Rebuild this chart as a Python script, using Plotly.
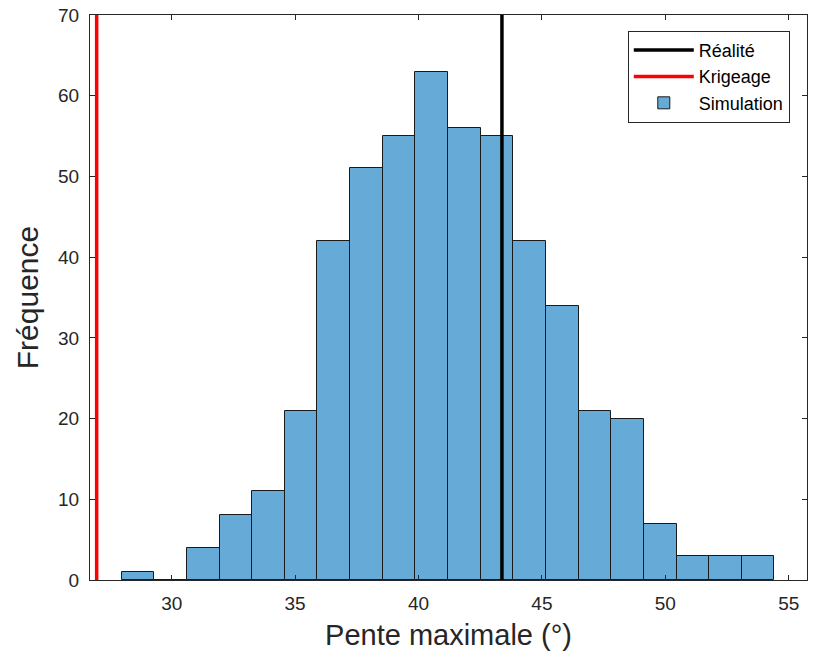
import plotly.graph_objects as go

# Data
bin_start = 27.97
bin_width = 1.3225
counts = [1, 0, 4, 8, 11, 21, 42, 51, 55, 63, 56, 55, 42, 34, 21, 20, 7, 3, 3, 3]
realite = 43.38
krigeage = 26.96
x_ticks = [30, 35, 40, 45, 50, 55]
y_ticks = [0, 10, 20, 30, 40, 50, 60, 70]

centers = [bin_start + bin_width * (i + 0.5) for i in range(len(counts))]

fig = go.Figure()
fig.add_trace(go.Scatter(x=[realite, realite], y=[0, 70], mode="lines",
                         line=dict(color="black", width=3.5), name="Réalité"))
fig.add_trace(go.Scatter(x=[krigeage, krigeage], y=[0, 70], mode="lines",
                         line=dict(color="#FF0000", width=3.5), name="Krigeage"))
fig.add_trace(go.Bar(x=centers, y=counts, width=bin_width, name="Simulation",
                     marker=dict(color="#66AAD7", line=dict(color="#1a1a1a", width=1))))

FONT = "Liberation Sans, Arial"
axis_common = dict(
    showline=True, linecolor="#262626", linewidth=1, mirror="ticks",
    ticks="inside", ticklen=5, tickcolor="#262626", showgrid=False, zeroline=False,
    automargin=False,
    tickfont=dict(family=FONT, size=19, color="#262626"),
)

fig.update_layout(
    width=814, height=656,
    margin=dict(l=90, r=7, t=15, b=76),
    paper_bgcolor="white", plot_bgcolor="white",
    showlegend=True, bargap=0,
    legend=dict(x=0.976, y=0.972, xanchor="right", yanchor="top",
                bgcolor="white", bordercolor="#262626", borderwidth=1,
                font=dict(family=FONT, size=18, color="black"),
                itemwidth=60,
                tracegroupgap=0, traceorder="normal"),
    xaxis=dict(range=[26.69, 55.74], tickvals=x_ticks, ticklabelstandoff=6,
               title=dict(text="Pente maximale (°)", standoff=11,
                          font=dict(family=FONT, size=29, color="#262626")),
               **axis_common),
    yaxis=dict(range=[0, 70], tickvals=y_ticks, ticklabelstandoff=6,
               title=dict(text="Fréquence", standoff=10,
                          font=dict(family=FONT, size=30, color="#262626")),
               **axis_common),
)

fig.write_html("out.html", config={"displayModeBar": False},
               post_script="document.body.style.margin='0';")
